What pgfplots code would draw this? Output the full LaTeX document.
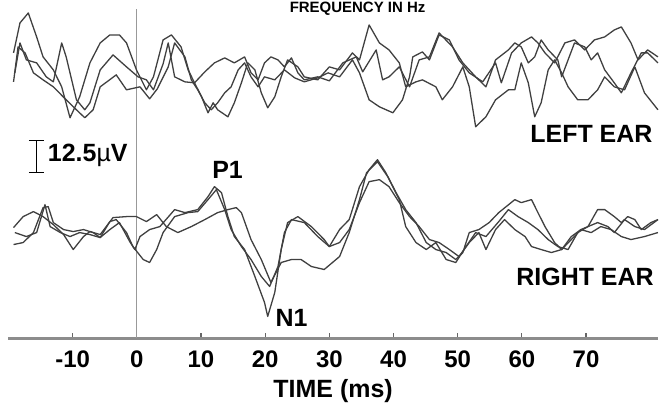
\documentclass[border=0pt]{standalone}
\usepackage{fontspec}
\setmainfont{Liberation Sans}
\usepackage{pgfplots}
\pgfplotsset{compat=1.18}
\tikzset{trace/.style={black!75, line width=0.65pt, line join=round}}
\newcommand{\lbl}{\bfseries\fontsize{12.5}{14}\selectfont}
\begin{document}
\begin{tikzpicture}
\begin{axis}[
    scale only axis,
    width=325.3pt, height=169.5pt,
    xmin=-20, xmax=81.18, ymin=0, ymax=339,
    axis y line=none,
    axis x line=bottom,
    x axis line style={-, black!45, line width=1.2pt},
    xtick={-10,0,10,20,30,40,50,60,70},
    xticklabels={-10,0,10,20,30,40,50,60,70},
    tick align=inside,
    major tick length=2.5pt,
    tick style={black!60, line width=0.6pt},
    xticklabel style={font=\bfseries\fontsize{12}{14}\selectfont, anchor=center, inner sep=0pt, yshift=-10.5pt},
    xlabel={TIME (ms)},
    xlabel style={font=\lbl, anchor=center, inner sep=0pt, at={(axis description cs:0.5,0)}, yshift=-26.5pt},
    clip=false,
]
% page extent
\path (axis cs:-21.31,-72) rectangle (axis cs:81.18,339);
% stimulus onset
\draw[black!40, line width=0.5pt] (axis cs:0,0) -- (axis cs:0,330);

% left ear
\addplot[trace] coordinates {
(-19.2,286) (-18.2,316) (-16.9,326) (-15.6,302) (-14.6,282) (-13.0,269) (-11.7,252) (-10.4,221) (-8.9,242) (-7.3,276) (-5.7,296) (-4.2,304) (-2.7,304) (-1.6,296) (-0.05,269) (1.5,249) (2.6,262) (4.1,299) (5.4,304) (6.9,292) (8.0,269) (9.0,256) (10.1,242) (11.1,226) (11.9,236) (12.6,229) (14.2,222) (15.2,236) (16.3,256) (17.3,276) (18.4,269) (19.4,246) (20.4,231) (21.5,242) (22.5,262) (23.5,279) (25.1,272) (26.1,262) (28.2,259) (30.0,272) (31.6,269) (33.6,286) (34.7,279) (36.2,314) (37.8,296) (39.3,289) (40.9,276) (41.9,252) (43.5,257) (44.5,259) (46.6,252) (47.6,239) (49.2,252) (50.8,272) (51.8,252) (52.8,212) (54.4,222) (55.9,239) (57.9,249) (58.9,249) (59.9,276) (61.0,256) (62.0,222) (63.0,236) (64.1,269) (65.1,279) (66.2,266) (67.2,252) (68.7,239) (70.3,239) (71.8,249) (72.9,262) (74.4,252) (76.0,249) (77.6,272) (79.1,246) (81.2,229)
};
\addplot[trace] coordinates {
(-19.0,266) (-18.2,296) (-17.2,279) (-15.6,276) (-14.1,262) (-13.0,257) (-11.7,296) (-11.0,282) (-9.4,239) (-8.1,229) (-7.3,236) (-5.7,269) (-3.7,284) (-1.6,272) (0.2,262) (1.5,259) (2.6,249) (4.1,275) (4.9,296) (5.9,262) (7.5,257) (9.0,256) (10.6,267) (12.1,276) (13.7,281) (15.2,276) (16.8,282) (17.8,266) (18.9,259) (19.9,276) (20.9,282) (22.0,279) (23.0,272) (24.1,281) (25.1,266) (26.1,259) (28.2,262) (30.0,258) (32.1,276) (34.2,282) (35.2,267) (37.3,289) (38.3,259) (39.3,262) (40.9,272) (42.5,252) (44.0,279) (45.6,282) (47.1,306) (49.2,292) (50.8,276) (52.8,262) (54.4,252) (55.9,279) (57.9,289) (58.9,296) (59.9,292) (61.0,276) (62.0,282) (63.0,299) (64.1,289) (65.6,279) (66.2,262) (67.2,279) (68.2,296) (69.8,292) (70.8,279) (71.8,286) (72.9,269) (74.4,256) (75.5,246) (77.0,266) (78.6,286) (79.6,286) (81.2,276)
};
\addplot[trace] coordinates {
(-19.2,257) (-18.5,292) (-17.4,286) (-16.1,266) (-14.6,259) (-13.0,252) (-11.0,239) (-9.4,229) (-8.1,221) (-6.8,229) (-5.7,252) (-3.2,264) (-1.6,249) (0.5,252) (2.0,240) (3.2,250) (4.9,272) (5.9,296) (7.5,282) (8.5,259) (9.5,249) (10.6,236) (11.6,229) (12.6,236) (13.7,246) (14.7,252) (15.8,269) (16.8,276) (17.8,262) (18.9,252) (19.9,262) (21.5,259) (23.0,269) (24.6,261) (26.1,257) (28.2,261) (29.8,266) (31.6,262) (33.6,279) (34.7,266) (36.2,239) (37.8,232) (39.9,226) (41.4,239) (42.5,262) (43.0,282) (44.5,287) (45.6,279) (47.1,304) (48.7,299) (50.2,279) (51.8,266) (53.9,257) (55.9,276) (56.8,256) (58.4,286) (59.9,296) (61.5,302) (62.5,296) (63.6,286) (65.1,276) (66.7,296) (68.2,299) (69.8,289) (71.3,299) (72.9,302) (74.4,309) (75.5,312) (77.0,296) (78.1,279) (79.6,289) (81.2,282)
};

% right ear
\addplot[trace] coordinates {
(-19.2,94) (-17.7,96) (-16.1,106) (-14.6,131) (-13.8,132) (-13.0,116) (-11.4,109) (-9.9,107) (-8.3,109) (-6.8,106) (-5.7,101) (-4.2,117) (-3.2,119) (-1.6,106) (-0.6,92) (1.0,79) (2.0,76) (3.1,89) (4.1,106) (5.9,122) (8.0,126) (9.5,127) (11.1,139) (12.4,149) (13.7,129) (14.7,109) (16.3,92) (17.8,79) (19.4,62) (20.7,52) (22.0,72) (23.0,106) (24.1,119) (26.1,116) (28.2,102) (30.0,92) (31.6,96) (33.1,109) (34.7,136) (36.2,157) (37.8,159) (39.3,152) (40.9,136) (42.5,122) (44.0,112) (45.6,99) (47.1,96) (48.7,89) (50.2,82) (51.8,96) (53.3,106) (54.4,89) (55.9,109) (57.3,119) (58.9,109) (60.5,102) (61.5,92) (63.0,89) (64.6,86) (66.2,89) (67.7,102) (69.2,109) (70.8,106) (72.3,112) (73.9,109) (75.5,102) (77.0,99) (79.1,102) (81.2,106)
};
\addplot[trace] coordinates {
(-19.2,111) (-17.7,122) (-16.1,127) (-14.6,122) (-13.0,114) (-11.4,104) (-9.9,89) (-8.3,102) (-7.3,107) (-5.7,104) (-3.7,121) (-1.6,122) (-0.05,122) (1.5,117) (3.1,124) (4.6,112) (6.4,106) (8.5,112) (10.6,119) (12.6,126) (14.2,129) (15.5,131) (16.3,126) (17.8,99) (19.4,79) (20.9,56) (22.5,76) (24.1,79) (25.6,79) (27.2,72) (29.2,69) (31.6,82) (33.1,106) (34.7,139) (35.8,166) (37.5,177) (39.1,162) (40.9,139) (41.9,112) (43.5,96) (45.1,89) (46.6,96) (48.2,79) (49.7,76) (51.3,92) (52.8,106) (54.4,102) (56.4,117) (57.9,129) (59.4,122) (61.0,116) (62.5,109) (64.1,99) (65.6,92) (67.2,89) (68.7,106) (70.3,112) (71.8,116) (73.4,112) (74.4,106) (76.0,119) (77.6,112) (79.1,109) (81.2,119)
};
\addplot[trace] coordinates {
(-19.0,106) (-17.2,102) (-15.6,106) (-14.3,134) (-13.5,112) (-11.9,106) (-10.4,102) (-8.9,106) (-7.3,104) (-5.7,101) (-4.2,109) (-2.7,116) (-1.1,97) (-0.3,89) (0.5,102) (2.0,109) (3.6,112) (5.9,129) (7.5,126) (9.5,129) (11.1,142) (12.1,152) (13.2,146) (14.2,122) (15.2,102) (16.8,89) (18.4,62) (19.9,36) (20.4,22) (21.5,46) (22.5,89) (23.5,116) (25.1,122) (27.2,112) (29.2,99) (30.0,92) (31.6,109) (33.1,119) (34.7,152) (36.2,169) (37.5,179) (38.8,166) (40.4,146) (41.9,129) (43.5,116) (45.1,96) (46.6,89) (48.2,86) (49.7,79) (50.8,86) (51.8,106) (53.3,109) (54.9,116) (56.4,126) (58.9,139) (59.9,136) (61.5,139) (62.5,126) (63.6,112) (65.1,96) (66.2,89) (67.7,99) (69.2,109) (70.3,112) (71.8,129) (72.9,129) (74.4,122) (75.5,116) (76.5,122) (77.6,119) (78.6,109) (80.1,116) (81.2,119)
};

% scale bar
\draw[black, line width=0.7pt]
  (axis cs:-16.8,198) -- (axis cs:-14.5,198)
  (axis cs:-15.63,198) -- (axis cs:-15.63,166)
  (axis cs:-16.8,166) -- (axis cs:-14.5,166);
\node[font=\lbl, anchor=west, inner sep=0pt] at (axis cs:-13.9,183) {12.5{\mdseries µ}V};

% labels
\node[font=\bfseries\fontsize{7.5}{9}\selectfont, inner sep=0pt] at (axis cs:34.4,330) {FREQUENCY IN Hz};
\node[font=\lbl, anchor=east, inner sep=0pt] at (axis cs:80.4,205) {LEFT EAR};
\node[font=\lbl, anchor=east, inner sep=0pt] at (axis cs:80.6,61.5) {RIGHT EAR};
\node[font=\lbl, inner sep=0pt] at (axis cs:14.15,169) {P1};
\node[font=\lbl, inner sep=0pt] at (axis cs:24.1,20.5) {N1};
\end{axis}
\end{tikzpicture}
\end{document}
